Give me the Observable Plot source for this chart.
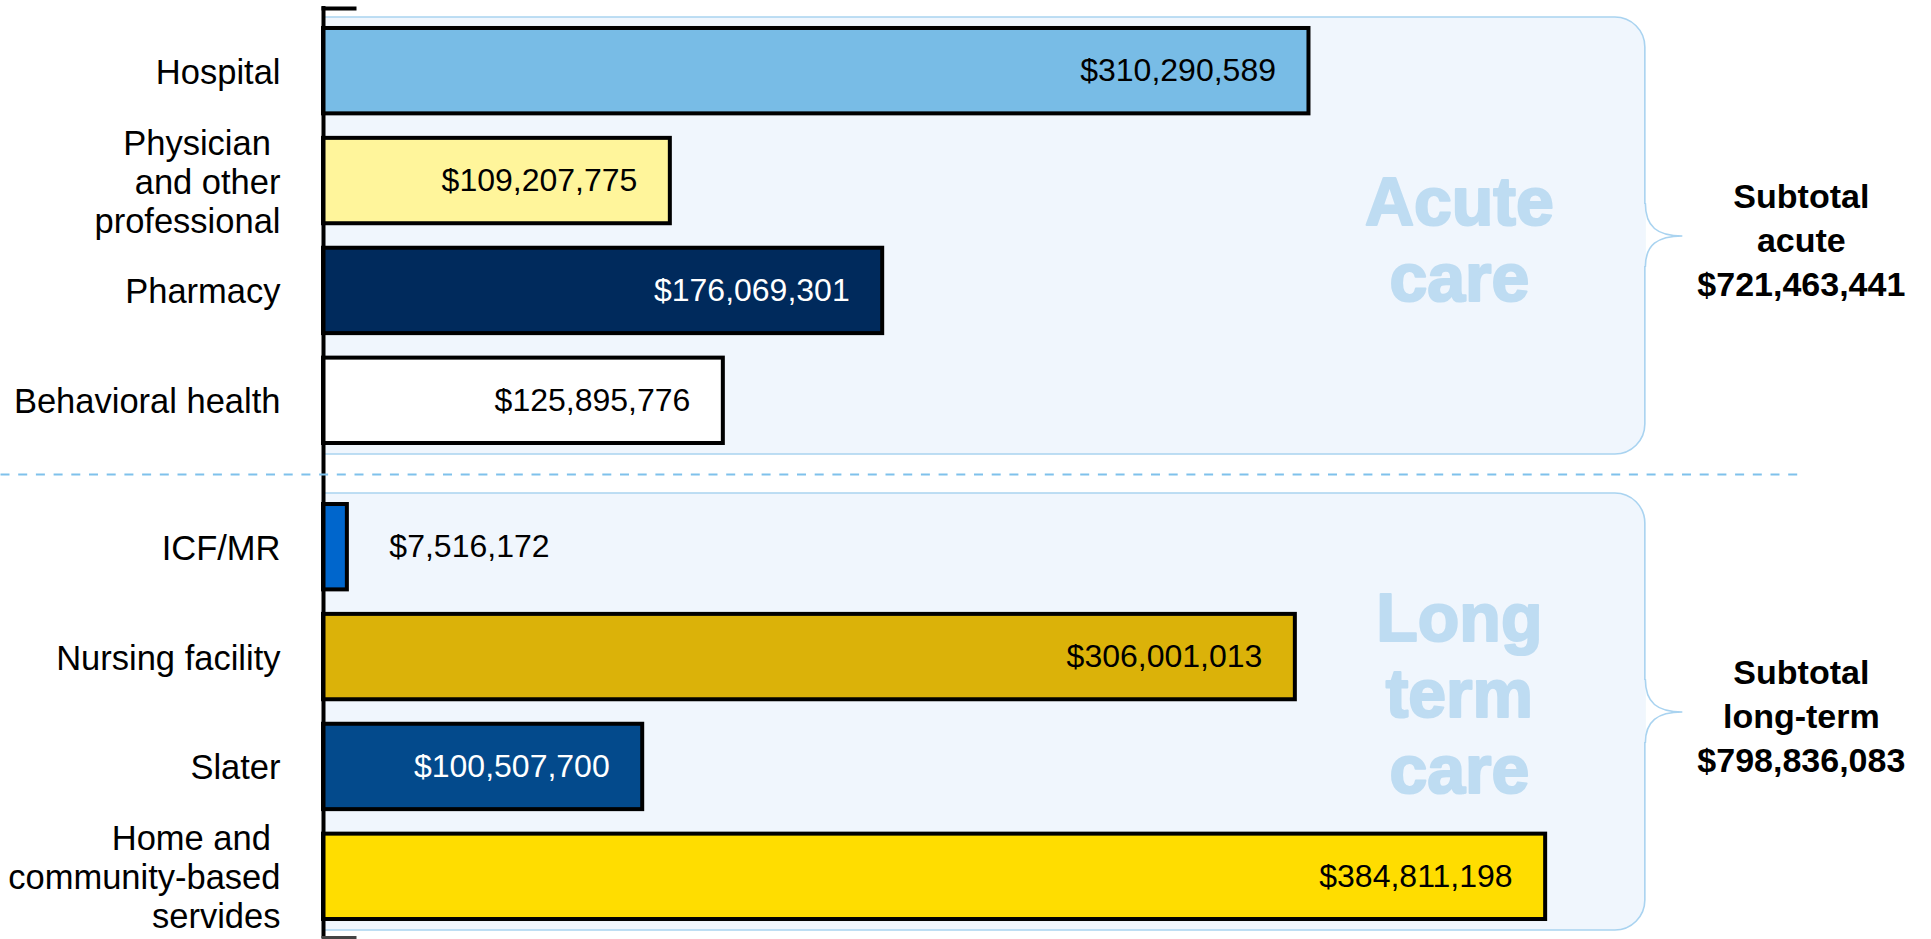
<!DOCTYPE html>
<html><head><meta charset="utf-8">
<script src="https://cdn.jsdelivr.net/npm/d3@7"></script>
<script src="https://cdn.jsdelivr.net/npm/@observablehq/plot@0.6"></script>
<style>
html,body{margin:0;padding:0;background:#fff;}
#chart svg{display:block;}
</style></head><body><div id="chart"></div>
<script>
// ---- data ----
const categories = ["Hospital", "Physician\u00A0\nand other\nprofessional", "Pharmacy", "Behavioral health",
  "ICF/MR", "Nursing facility", "Slater", "Home and\u00A0\ncommunity-based\nservides"];
const categoryGroups = ["acute", "acute", "acute", "acute", "long-term", "long-term", "long-term", "long-term"];
const spending = [310290589, 109207775, 176069301, 125895776, 7516172, 306001013, 100507700, 384811198];
const groupNames = ["acute", "long-term"];
const groupTitles = ["Acute\ncare", "Long\nterm\ncare"];
const barColors = ["#78bce6", "#fff59b", "#002a5c", "#ffffff", "#0066cc", "#dbb209", "#034a8c", "#ffdd00"];

// ---- layout / style ----
const FONT = "'Liberation Sans', Arial, Helvetica, sans-serif";
const PANEL_FILL = "#f0f6fd", PANEL_STROKE = "#a9d3f0", DASH = "#7fc1eb", WATERMARK = "#bedcf2";
const X_MAX = 506.3e6, PANEL_END = 416.2e6, PANEL_START = -15e6, COVER_START = -120e6;
const fmt = d3.format("$,");

const counter = {};
const rows = categories.map((c, i) => {
  const g = categoryGroups[i];
  counter[g] = (counter[g] ?? -1) + 1;
  return {category: c, group: g, value: spending[i], rank: counter[g], color: barColors[i]};
});
const totals = groupNames.map((g, i) => ({
  group: g, title: groupTitles[i], total: d3.sum(rows.filter(r => r.group === g), r => r.value)
}));
const isDark = c => d3.lab(c).l < 50;
const inside = d => d.value > 50e6;
const acute = totals.filter(t => t.group === "acute");
const longterm = totals.filter(t => t.group === "long-term");

const sym = fn => ({draw(ctx) { fn(ctx); }});
const braceSymbol = sym(ctx => { ctx.moveTo(0, -33); ctx.bezierCurveTo(0, -9, 12, 0, 37, 0); ctx.bezierCurveTo(12, 0, 0, 9, 0, 31); });
const braceCoverL = sym(ctx => ctx.rect(-2.5, -32, 2.5, 62));
const braceCoverR = sym(ctx => ctx.rect(0, -32, 2.5, 62));
const topTick = sym(ctx => { ctx.moveTo(-2, -9); ctx.lineTo(33, -9); });
const bottomTick = sym(ctx => { ctx.moveTo(-2, 7); ctx.lineTo(33, 7); });
const dashLine = sym(ctx => { ctx.moveTo(-323, 20); ctx.lineTo(1479, 20); });

const labelCommon = {x: "value", y: "rank", fy: "group", text: d => fmt(d.value), fontSize: 32, fontFamily: FONT};
const watermarkStyle = {x: () => PANEL_END, fy: "group", frameAnchor: "middle", text: "title", dx: -186,
  fill: WATERMARK, stroke: WATERMARK, strokeWidth: 2.2, fontWeight: "bold", fontSize: 68, lineHeight: 1.12, fontFamily: FONT};

const chart = Plot.plot({
  width: 1931, height: 939,
  marginLeft: 323, marginRight: 0, marginTop: 17, marginBottom: 9,
  style: {fontFamily: FONT, background: "white"},
  x: {domain: [0, X_MAX], axis: null},
  y: {domain: [0, 1, 2, 3], paddingInner: 0.223, paddingOuter: 0.1, round: false, axis: null},
  fy: {domain: groupNames, paddingInner: 0.082, paddingOuter: 0, round: false, axis: null},
  color: {domain: categories, range: barColors},
  marks: [
    Plot.barX(totals, {x1: () => PANEL_START, x2: () => PANEL_END, fy: "group", fill: PANEL_FILL, stroke: PANEL_STROKE, strokeWidth: 1.6, rx: 30}),
    Plot.barX(totals, {x1: () => COVER_START, x2: () => 0, fy: "group", fill: "white", insetTop: -3, insetBottom: -3}),
    Plot.dot(totals, {x: () => PANEL_END, fy: "group", frameAnchor: "middle", symbol: braceCoverL, fill: PANEL_FILL, stroke: "none"}),
    Plot.dot(totals, {x: () => PANEL_END, fy: "group", frameAnchor: "middle", symbol: braceCoverR, fill: "white", stroke: "none"}),
    Plot.dot(totals, {x: () => PANEL_END, fy: "group", frameAnchor: "middle", symbol: braceSymbol, fill: "none", stroke: PANEL_STROKE, strokeWidth: 1.6}),
    Plot.text(acute, {...watermarkStyle, dy: 2.5}),
    Plot.text(longterm, {...watermarkStyle, dy: -19.5}),
    Plot.barX(rows, {x: "value", y: "rank", fy: "group", fill: "category", stroke: "black", strokeWidth: 4}),
    Plot.text(rows.filter(d => inside(d) && isDark(d.color)), {...labelCommon, textAnchor: "end", dx: -33, fill: "white"}),
    Plot.text(rows.filter(d => inside(d) && !isDark(d.color)), {...labelCommon, textAnchor: "end", dx: -33, fill: "black"}),
    Plot.text(rows.filter(d => !inside(d)), {...labelCommon, textAnchor: "start", dx: 42, fill: "black"}),
    Plot.text(rows, {y: "rank", fy: "group", frameAnchor: "left", text: "category", textAnchor: "end", dx: -43,
      fontSize: 34.5, lineHeight: 1.13, fill: "black", fontFamily: FONT}),
    Plot.ruleX(acute, {x: () => 0, fy: "group", stroke: "black", strokeWidth: 4, insetTop: -11, insetBottom: -20}),
    Plot.ruleX(longterm, {x: () => 0, fy: "group", stroke: "black", strokeWidth: 4, insetTop: -19, insetBottom: -8}),
    Plot.dot(acute, {fy: "group", frameAnchor: "top-left", symbol: topTick, fill: "none", stroke: "black", strokeWidth: 4}),
    Plot.dot(longterm, {fy: "group", frameAnchor: "bottom-left", symbol: bottomTick, fill: "none", stroke: "#444", strokeWidth: 3}),
    Plot.dot(acute, {fy: "group", frameAnchor: "bottom-left", symbol: dashLine, fill: "none", stroke: DASH, strokeWidth: 2, strokeDasharray: "9,8.7"}),
    Plot.text(totals, {x: () => PANEL_END, fy: "group", frameAnchor: "middle", text: d => `Subtotal\n${d.group}\n${fmt(d.total)}`,
      dx: 156, dy: 2, textAnchor: "middle", fontWeight: "bold", fontSize: 34, lineHeight: 1.29, fill: "black", fontFamily: FONT})
  ]
});
document.getElementById("chart").append(chart);
</script>
</body></html>
